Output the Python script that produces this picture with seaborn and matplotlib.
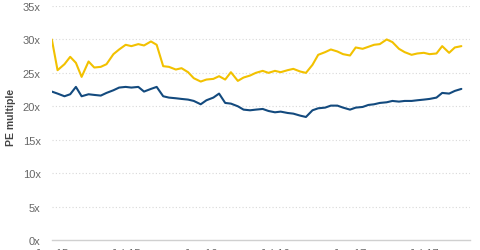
import matplotlib
matplotlib.use("Agg")
import matplotlib.pyplot as plt
import matplotlib.dates as mdates
import seaborn as sns
import pandas as pd
import numpy as np

# semimonthly observations from Jan 2015
yellow_pe = [30.0, 25.4, 26.3, 27.4, 26.5, 24.4, 26.7, 25.8, 25.9, 26.3,
             27.8, 28.5, 29.2, 29.0, 29.3, 29.1, 29.7, 29.2, 26.0, 25.9,
             25.5, 25.7, 25.1, 24.2, 23.7, 24.0, 24.1, 24.5, 24.0, 25.1,
             23.8, 24.3, 24.6, 25.0, 25.3, 25.0, 25.3, 25.1, 25.4, 25.6,
             25.2, 25.0, 26.2, 27.7, 28.1, 28.5, 28.2, 27.8, 27.6, 28.8,
             28.6, 28.9, 29.2, 29.3, 30.0, 29.6, 28.6, 28.1, 27.7, 27.9,
             28.0, 27.8, 27.9, 29.0, 28.0, 28.8, 29.0]
blue_pe = [22.2, 21.9, 21.5, 21.8, 22.9, 21.5, 21.8, 21.7, 21.6, 22.0,
           22.4, 22.8, 22.9, 22.8, 22.9, 22.2, 22.6, 22.9, 21.5, 21.3,
           21.2, 21.1, 21.0, 20.8, 20.3, 20.9, 21.3, 21.9, 20.5, 20.4,
           20.0, 19.5, 19.4, 19.5, 19.6, 19.3, 19.1, 19.2, 19.0, 18.9,
           18.6, 18.4, 19.4, 19.7, 19.8, 20.1, 20.1, 19.8, 19.5, 19.8,
           19.9, 20.2, 20.3, 20.5, 20.6, 20.8, 20.7, 20.8, 20.8, 20.9,
           21.0, 21.1, 21.3, 22.0, 21.9, 22.3, 22.6]
dates = pd.date_range("2015-01-01", periods=len(yellow_pe), freq="SMS")
tick_dates = ["2015-01-01", "2015-07-01", "2016-01-01", "2016-07-01", "2017-01-01", "2017-07-01"]
tick_labels = ["Jan-15", "Jul-15", "Jan-16", "Jul-16", "Jan-17", "Jul-17"]
y_ticks = [0, 5, 10, 15, 20, 25, 30, 35]
y_labels = ["0x", "5x", "10x", "15x", "20x", "25x", "30x", "35x"]

df = pd.DataFrame({
    "date": list(dates) * 2,
    "pe": yellow_pe + blue_pe,
    "series": ["A"] * len(yellow_pe) + ["B"] * len(blue_pe),
})

sns.set_theme(style="white")
plt.rcParams["font.family"] = ["Liberation Sans", "DejaVu Sans"]

fig = plt.figure(figsize=(4.8, 2.51), dpi=100)
ax = fig.add_axes([0.108, 0.040, 0.871, 0.932])

sns.lineplot(data=df, x="date", y="pe", hue="series",
             palette={"A": "#f2c100", "B": "#134a7e"},
             linewidth=1.5, legend=False, ax=ax)

ax.set_ylim(0, 35)
ax.set_xlim(pd.Timestamp("2015-01-01"), pd.Timestamp("2017-10-22"))
ax.set_yticks(y_ticks)
ax.set_yticklabels(y_labels)
ax.set_xticks(pd.to_datetime(tick_dates))
ax.set_xticklabels(tick_labels)

for y in y_ticks[1:]:
    ax.axhline(y, color="#d9d9d9", linewidth=0.8, linestyle=(0, (1, 2)), zorder=0)

for s in ["top", "right", "left"]:
    ax.spines[s].set_visible(False)
ax.spines["bottom"].set_color("#d0d0d0")
ax.spines["bottom"].set_linewidth(1.0)

ax.tick_params(axis="y", length=0, pad=8, labelsize=8, labelcolor="#666666")
ax.tick_params(axis="x", length=3, direction="in", color="#d0d0d0", pad=6,
               labelsize=8, labelcolor="#666666")

ax.set_xlabel("")
ax.set_ylabel("PE multiple", fontsize=7.5, fontweight="bold", color="#444444")
ax.yaxis.set_label_coords(-0.085, 0.53)

fig.savefig("out.png", dpi=100)
